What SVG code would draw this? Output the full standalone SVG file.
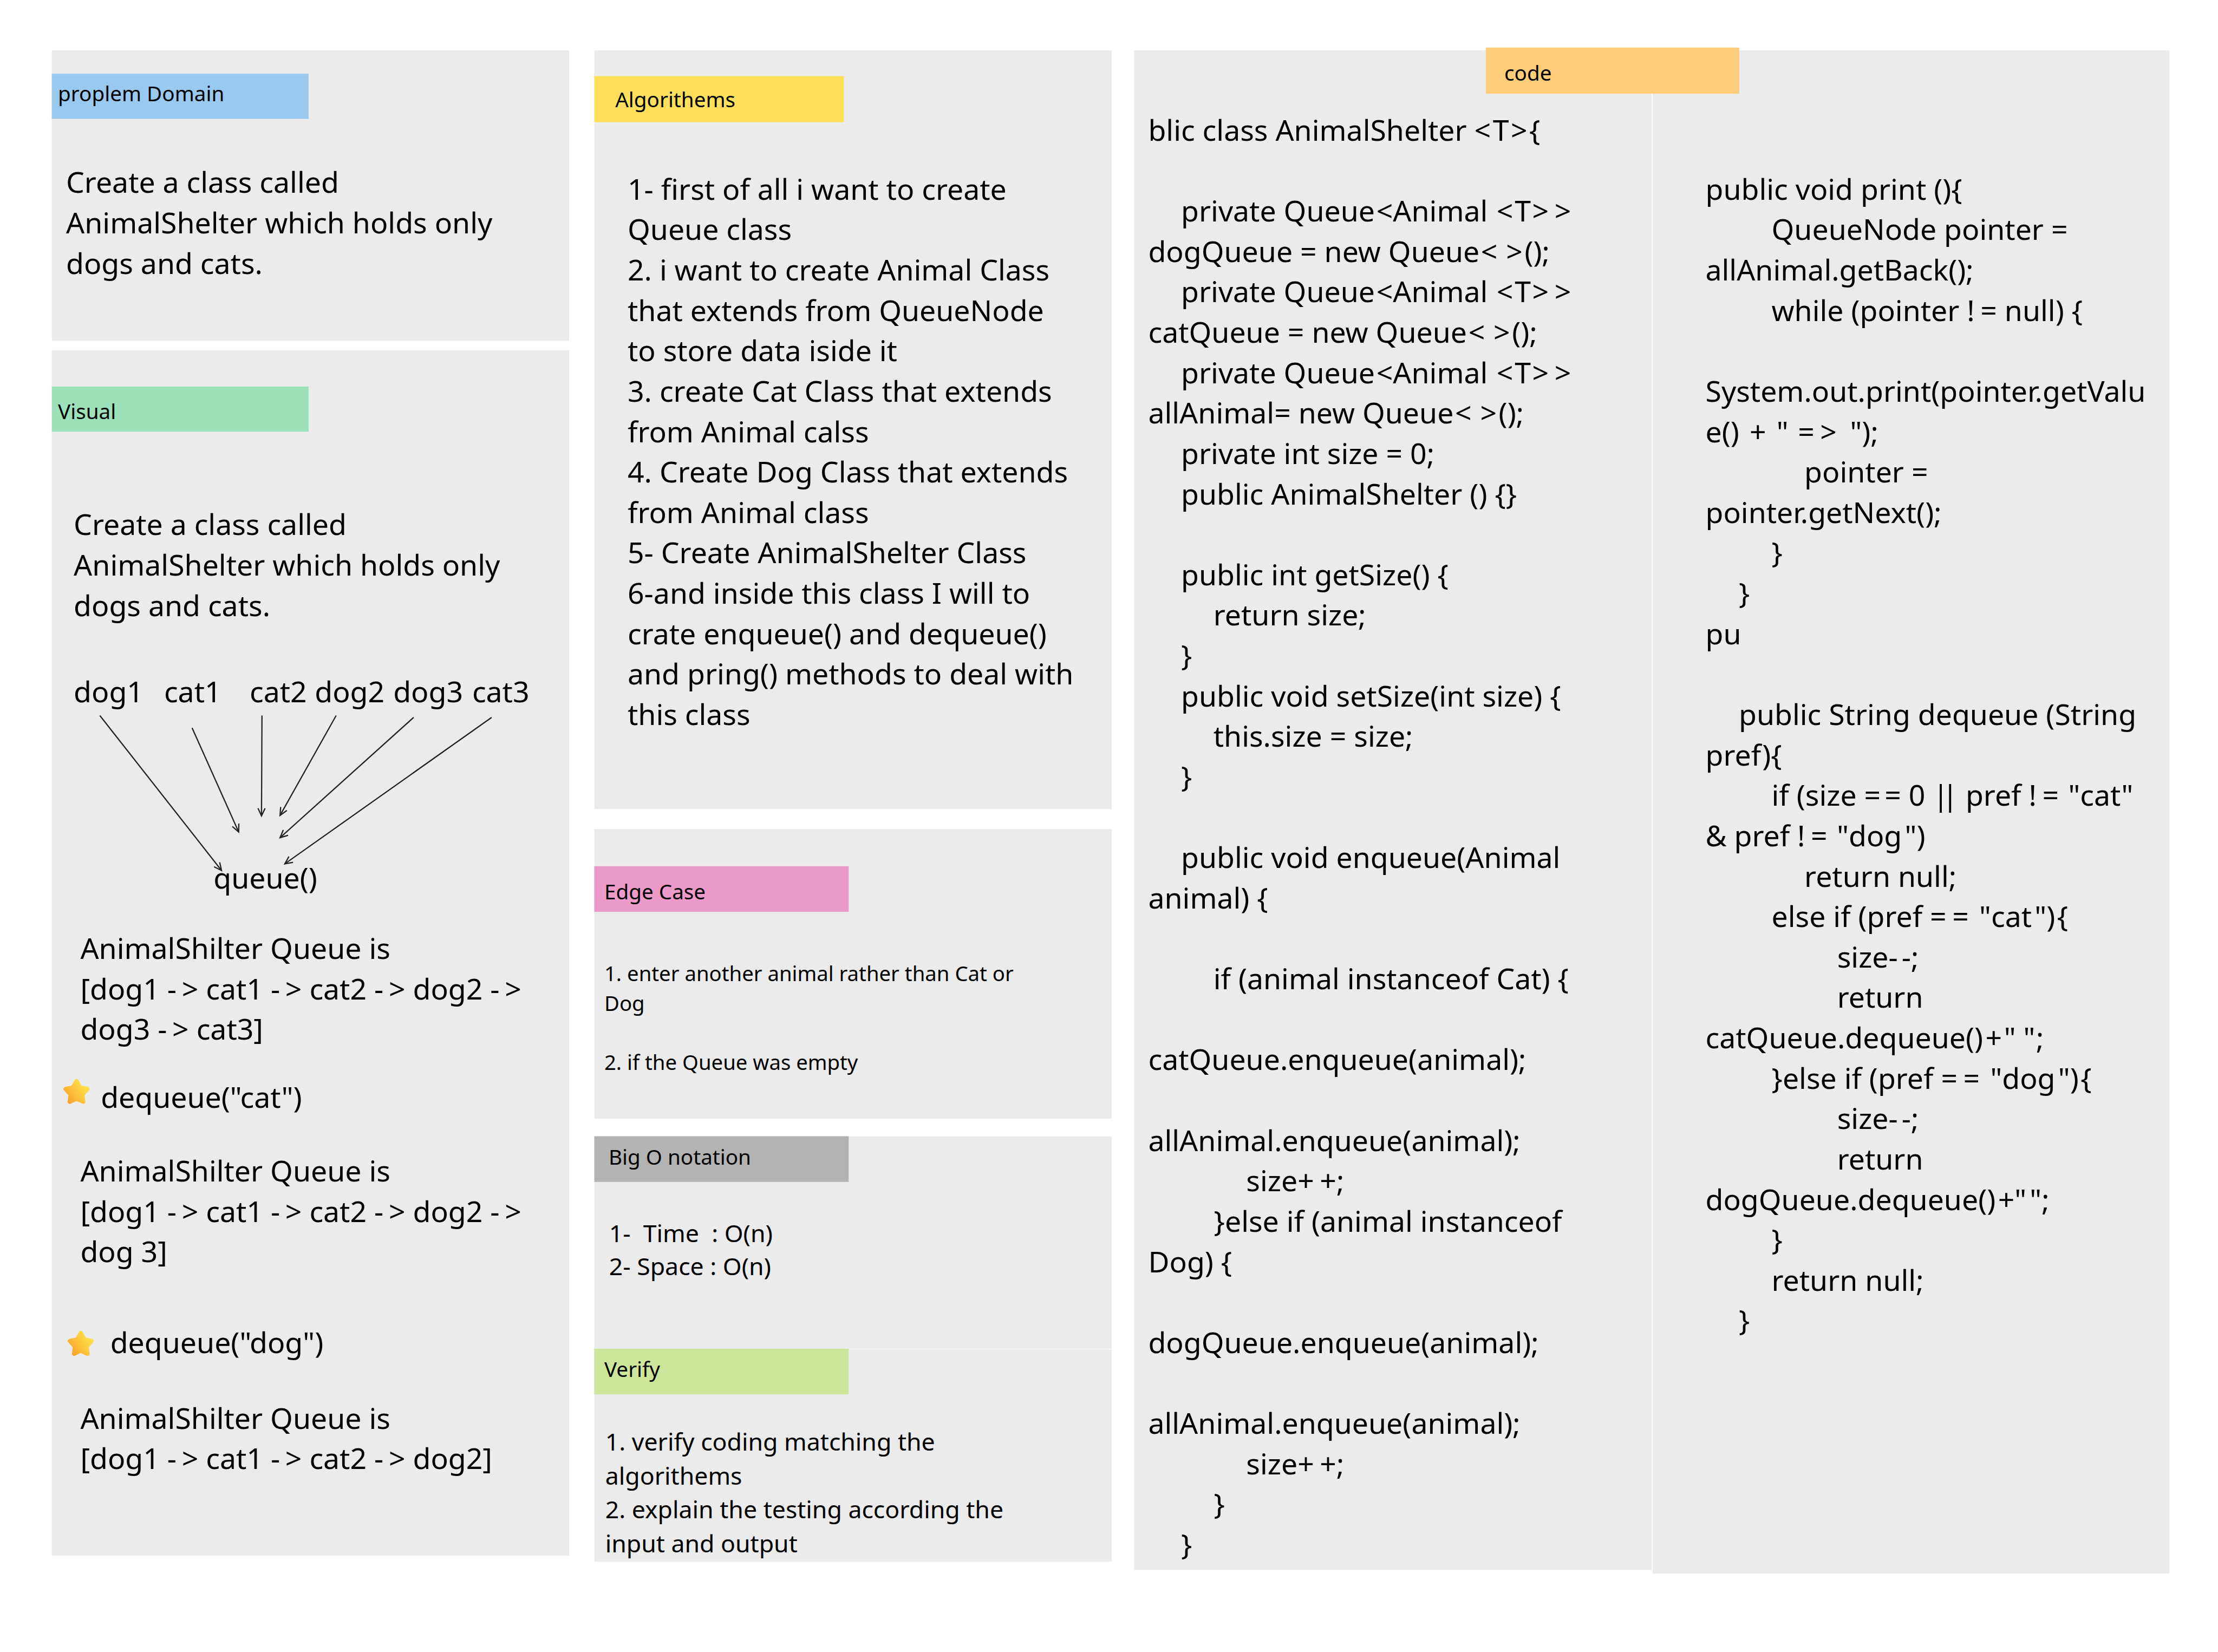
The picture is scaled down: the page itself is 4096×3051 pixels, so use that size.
<svg xmlns="http://www.w3.org/2000/svg" width="4096" height="3051" viewBox="0 0 4096 3051">
<style>
text{font-family:"Noto Sans","Open Sans","Liberation Sans",sans-serif;fill:#000;white-space:pre}
.m{font-size:61px}.s{font-size:50.8px}.e{font-size:43.6px}.l{font-size:44px}
.p{fill:#ebebeb}.c{stroke:#222;stroke-width:2.6;fill:none;marker-end:url(#ah)}
</style>
<defs>
<marker id="ah" markerUnits="userSpaceOnUse" markerWidth="30" markerHeight="30" refX="22" refY="12" orient="auto" overflow="visible"><path d="M6,4.5 L22,12 L6,19.5" fill="none" stroke="#222" stroke-width="2.6"/></marker>
<linearGradient id="sg" x1="0" y1="1" x2="1" y2="0.3"><stop offset="0" stop-color="#f59f2a"/><stop offset="0.6" stop-color="#ffc83f"/><stop offset="1" stop-color="#ffe24a"/></linearGradient>
<polygon id="star" points="0,-24 7.6,-10.5 22.8,-7.4 12.4,4 14.1,19.4 0,13 -14.1,19.4 -12.4,4 -22.8,-7.4 -7.6,-10.5" fill="url(#sg)" stroke="url(#sg)" stroke-width="9" stroke-linejoin="round"/>
</defs>
<rect width="4096" height="3051" fill="#fff"/>
<g transform="scale(0.87803)">
<g id="problem-domain">
<rect class="p" x="109" y="106" width="1088" height="611"/>
<rect x="109" y="155" width="540" height="95" fill="#9ac9f0"/>
<text class="l" x="122" y="213">proplem Domain</text>
<text class="m" x="139" y="405">Create a class called</text>
<text class="m" x="139" y="490.5">AnimalShelter which holds only</text>
<text class="m" x="139" y="576">dogs and cats.</text>
</g>
<g id="visual">
<rect class="p" x="109" y="737" width="1088" height="2535"/>
<rect x="109" y="813" width="540" height="95" fill="#9de1ba"/>
<text class="l" x="122" y="882">Visual</text>
<text class="m" x="155" y="1125">Create a class called</text>
<text class="m" x="155" y="1211">AnimalShelter which holds only</text>
<text class="m" x="155" y="1296">dogs and cats.</text>
<text class="m" x="155" y="1477">dog1</text>
<text class="m" x="345" y="1477">cat1</text>
<text class="m" x="525" y="1477">cat2</text>
<text class="m" x="662" y="1477">dog2</text>
<text class="m" x="827" y="1477">dog3</text>
<text class="m" x="993" y="1477">cat3</text>
<text class="m" x="449" y="1869.5">queue()</text>
<text class="m" x="169" y="2017.5">AnimalShilter Queue is</text>
<text class="m" x="169" y="2102">[dog1 -<tspan dx="11">&gt;</tspan> cat1 -<tspan dx="11">&gt;</tspan> cat2 -<tspan dx="11">&gt;</tspan> dog2 -<tspan dx="11">&gt;</tspan></text>
<text class="m" x="169" y="2186.5">dog3 -<tspan dx="11">&gt;</tspan> cat3]</text>
<use href="#star" x="161" y="2298"/>
<text class="m" x="212" y="2330">dequeue("cat")</text>
<text class="m" x="169" y="2485.5">AnimalShilter Queue is</text>
<text class="m" x="169" y="2570.5">[dog1 -<tspan dx="11">&gt;</tspan> cat1 -<tspan dx="11">&gt;</tspan> cat2 -<tspan dx="11">&gt;</tspan> dog2 -<tspan dx="11">&gt;</tspan></text>
<text class="m" x="169" y="2655">dog 3]</text>
<use href="#star" x="170" y="2828"/>
<text class="m" x="232" y="2846">dequeue("dog")</text>
<text class="m" x="169" y="3005.5">AnimalShilter Queue is</text>
<text class="m" x="169" y="3090">[dog1 -<tspan dx="11">&gt;</tspan> cat1 -<tspan dx="11">&gt;</tspan> cat2 -<tspan dx="11">&gt;</tspan> dog2]</text>
</g>
<g id="algorithems">
<rect class="p" x="1250" y="106" width="1088" height="1596"/>
<rect x="1250" y="160" width="525" height="97" fill="#ffe05c"/>
<text class="l" x="1294" y="225">Algorithems</text>
<text class="m" x="1320" y="420">1- first of all i want to create</text>
<text class="m" x="1320" y="505">Queue class</text>
<text class="m" x="1320" y="590">2. i want to create Animal Class</text>
<text class="m" x="1320" y="675">that extends from QueueNode</text>
<text class="m" x="1320" y="760">to store data iside it</text>
<text class="m" x="1320" y="845">3. create Cat Class that extends</text>
<text class="m" x="1320" y="930">from Animal calss</text>
<text class="m" x="1320" y="1015">4. Create Dog Class that extends</text>
<text class="m" x="1320" y="1100">from Animal class</text>
<text class="m" x="1320" y="1185">5- Create AnimalShelter Class</text>
<text class="m" x="1320" y="1270">6-and inside this class I will to</text>
<text class="m" x="1320" y="1355">crate enqueue() and dequeue()</text>
<text class="m" x="1320" y="1440">and pring() methods to deal with</text>
<text class="m" x="1320" y="1525">this class</text>
</g>
<g id="edge-case">
<rect class="p" x="1250" y="1744" width="1088" height="609"/>
<rect x="1250" y="1822" width="535" height="96" fill="#ec9ac8"/>
<text class="l" x="1271" y="1892">Edge Case</text>
<text class="e" x="1271" y="2064">1. enter another animal rather than Cat or</text>
<text class="e" x="1271" y="2126">Dog</text>
<text class="e" x="1271" y="2250">2. if the Queue was empty</text>
</g>
<g id="big-o">
<rect class="p" x="1250" y="2390" width="1088" height="447"/>
<rect x="1250" y="2390" width="535" height="96" fill="#b3b3b3"/>
<text class="l" x="1280" y="2450">Big O notation</text>
<text class="s" x="1281" y="2613">1-  Time  : O(n)</text>
<text class="s" x="1281" y="2682">2- Space : O(n)</text>
</g>
<g id="verify">
<rect class="p" x="1250" y="2838" width="1088" height="447"/>
<rect x="1250" y="2837" width="535" height="96" fill="#cde69c"/>
<text class="l" x="1271" y="2896">Verify</text>
<text class="s" x="1273" y="3051">1. verify coding matching the</text>
<text class="s" x="1273" y="3123">algorithems</text>
<text class="s" x="1273" y="3194">2. explain the testing according the</text>
<text class="s" x="1273" y="3265">input and output</text>
</g>
<g id="code-left">
<rect class="p" x="2385" y="106" width="1089" height="3196"/>
<text class="m" x="2415" y="296">blic class AnimalShelter &lt;<tspan dx="4">T</tspan><tspan dx="4">&gt;</tspan><tspan dx="4">{</tspan></text>
<text class="m" x="2484" y="466">private Queue<tspan dx="3">&lt;</tspan>Animal <tspan dx="3">&lt;</tspan><tspan dx="3">T</tspan><tspan dx="3">&gt;</tspan><tspan dx="12">&gt;</tspan></text>
<text class="m" x="2415" y="551">dogQueue = new Queue<tspan dx="3">&lt;</tspan><tspan dx="18">&gt;</tspan><tspan dx="4">();</tspan></text>
<text class="m" x="2484" y="636">private Queue<tspan dx="3">&lt;</tspan>Animal <tspan dx="3">&lt;</tspan><tspan dx="3">T</tspan><tspan dx="3">&gt;</tspan><tspan dx="12">&gt;</tspan></text>
<text class="m" x="2415" y="721">catQueue = new Queue<tspan dx="3">&lt;</tspan><tspan dx="18">&gt;</tspan><tspan dx="4">();</tspan></text>
<text class="m" x="2484" y="806">private Queue<tspan dx="3">&lt;</tspan>Animal <tspan dx="3">&lt;</tspan><tspan dx="3">T</tspan><tspan dx="3">&gt;</tspan><tspan dx="12">&gt;</tspan></text>
<text class="m" x="2415" y="891">allAnimal= new Queue<tspan dx="3">&lt;</tspan><tspan dx="18">&gt;</tspan><tspan dx="4">();</tspan></text>
<text class="m" x="2484" y="976">private int size = 0;</text>
<text class="m" x="2484" y="1061">public AnimalShelter () {}</text>
<text class="m" x="2484" y="1231">public int getSize() {</text>
<text class="m" x="2552" y="1316">return size;</text>
<text class="m" x="2484" y="1401">}</text>
<text class="m" x="2484" y="1486">public void setSize(int size) {</text>
<text class="m" x="2552" y="1571">this.size = size;</text>
<text class="m" x="2484" y="1656">}</text>
<text class="m" x="2484" y="1826">public void enqueue(Animal</text>
<text class="m" x="2415" y="1911">animal) {</text>
<text class="m" x="2552" y="2081">if (animal instanceof Cat) {</text>
<text class="m" x="2415" y="2251">catQueue.enqueue(animal);</text>
<text class="m" x="2415" y="2421">allAnimal.enqueue(animal);</text>
<text class="m" x="2621" y="2506">size+<tspan dx="12">+</tspan>;</text>
<text class="m" x="2553" y="2591">}else if (animal instanceof</text>
<text class="m" x="2415" y="2676">Dog) {</text>
<text class="m" x="2415" y="2846">dogQueue.enqueue(animal);</text>
<text class="m" x="2415" y="3016">allAnimal.enqueue(animal);</text>
<text class="m" x="2621" y="3101">size+<tspan dx="12">+</tspan>;</text>
<text class="m" x="2553" y="3186">}</text>
<text class="m" x="2484" y="3271">}</text>
</g>
<g id="code-right">
<rect class="p" x="3476" y="106" width="1087" height="3204"/>
<text class="m" x="3587" y="420">public void print (){</text>
<text class="m" x="3726" y="505">QueueNode pointer =</text>
<text class="m" x="3587" y="590">allAnimal.getBack();</text>
<text class="m" x="3726" y="675">while (pointer !<tspan dx="12">=</tspan> null) {</text>
<text class="m" x="3587" y="845">System.out.print(pointer.getValu</text>
<text class="m" x="3587" y="930">e() <tspan dx="6">+</tspan> <tspan dx="6">"</tspan> <tspan dx="4">=</tspan><tspan dx="12">&gt;</tspan> <tspan dx="12">"</tspan>);</text>
<text class="m" x="3795" y="1015">pointer =</text>
<text class="m" x="3587" y="1100">pointer.getNext();</text>
<text class="m" x="3726" y="1185">}</text>
<text class="m" x="3657" y="1270">}</text>
<text class="m" x="3587" y="1355">pu</text>
<text class="m" x="3657" y="1525">public String dequeue (String</text>
<text class="m" x="3587" y="1610">pref){</text>
<text class="m" x="3726" y="1695">if (size =<tspan dx="8">=</tspan> 0 |<tspan dx="-14">|</tspan> pref !<tspan dx="12">=</tspan> <tspan dx="4">"</tspan>cat"</text>
<text class="m" x="3587" y="1780">&amp; pref !<tspan dx="12">=</tspan> <tspan dx="4">"</tspan>dog<tspan dx="6">"</tspan>)</text>
<text class="m" x="3795" y="1865">return null;</text>
<text class="m" x="3726" y="1950">else if (pref =<tspan dx="12">=</tspan> <tspan dx="6">"</tspan>cat<tspan dx="6">"</tspan>)<tspan dx="4">{</tspan></text>
<text class="m" x="3864" y="2035">size-<tspan dx="8">-</tspan>;</text>
<text class="m" x="3864" y="2120">return</text>
<text class="m" x="3587" y="2205">catQueue.dequeue()<tspan dx="5">+</tspan><tspan dx="4">"</tspan> "<tspan dx="2">;</tspan></text>
<text class="m" x="3726" y="2290">}else if (pref =<tspan dx="12">=</tspan> <tspan dx="6">"</tspan>dog<tspan dx="6">"</tspan>)<tspan dx="4">{</tspan></text>
<text class="m" x="3864" y="2375">size-<tspan dx="8">-</tspan>;</text>
<text class="m" x="3864" y="2460">return</text>
<text class="m" x="3587" y="2545">dogQueue.dequeue()<tspan dx="5">+</tspan>"<tspan dx="7">"</tspan>;</text>
<text class="m" x="3726" y="2630">}</text>
<text class="m" x="3726" y="2715">return null;</text>
<text class="m" x="3657" y="2800">}</text>
</g>
<g id="code-label">
<rect x="3125" y="100" width="533" height="97" fill="#fdcd7c"/>
<text class="l" x="3164" y="170">code</text>
</g>
<g id="connectors">
<line class="c" x1="210" y1="1505" x2="466" y2="1831"/>
<line class="c" x1="404" y1="1531" x2="502" y2="1750"/>
<line class="c" x1="551" y1="1505" x2="550" y2="1716"/>
<line class="c" x1="707" y1="1505" x2="589" y2="1715"/>
<line class="c" x1="870" y1="1509" x2="589" y2="1762"/>
<line class="c" x1="1034" y1="1509" x2="599" y2="1817"/>
</g>
</g>
</svg>
